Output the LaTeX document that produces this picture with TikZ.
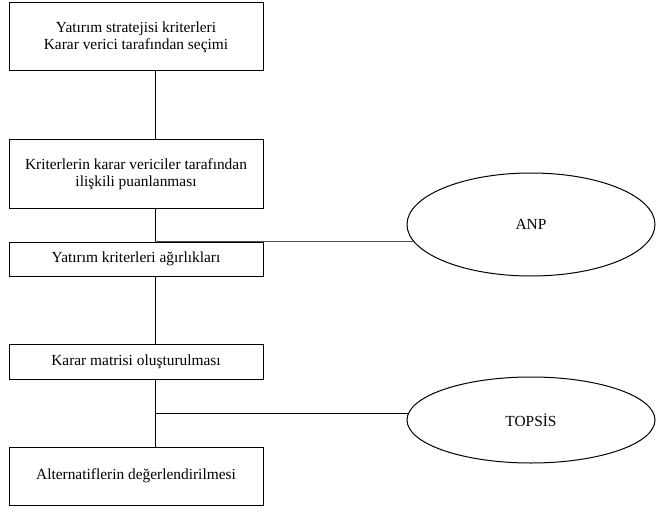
\documentclass[tikz,border=0pt]{standalone}
\usepackage{fontspec}
\setmainfont{Liberation Serif}
\usetikzlibrary{calc,shapes.geometric}

\begin{document}
\begin{tikzpicture}[x=1pt,y=-1pt]
    \tikzset{%
        every node/.style={font=\fontsize{15.4}{17.2}\selectfont},
        stepbox/.style={draw,line width=1pt,minimum width=254pt,inner sep=0pt,
                align=center},%
        method/.style={draw,ellipse,line width=1pt,minimum width=248pt,inner sep=0pt},%
        link/.style={line width=1pt}%
    }
    %% some definitions

    \def\W{656} % picture width
    \def\H{516} % picture height
    \def\xBox{136} % centre of the boxes
    \def\xEll{531} % centre of the ellipses

    \useasboundingbox (0,0) rectangle (\W,\H);

    %% steps

    \node[stepbox,minimum height=68pt] (strateji) at (\xBox,37)
        {Yatırım stratejisi kriterleri\\Karar verici tarafından seçimi};
    \node[stepbox,minimum height=68pt] (puan) at (\xBox,174)
        {Kriterlerin karar vericiler tarafından\\ilişkili puanlanması};
    \node[stepbox,minimum height=34pt] (agirlik) at (\xBox,259)
        {Yatırım kriterleri ağırlıkları};
    \node[stepbox,minimum height=35pt] (matris) at (\xBox,361.5)
        {Karar matrisi oluşturulması};
    \node[stepbox,minimum height=58pt] (alternatif) at (\xBox,476)
        {Alternatiflerin değerlendirilmesi};

    %% methods

    \node[method,minimum height=103pt] (anp) at (\xEll,224.5) {ANP};
    \node[method,minimum height=86pt] (topsis) at (\xEll,420) {TOPSİS};

    %% connectors

    \coordinate (spine) at (155,0);
    \coordinate (jTopsis) at ($(matris.south -| spine)!.5!(alternatif.north -| spine)$);

    \draw[link] (strateji.south -| spine) -- (puan.north -| spine);
    \draw[link] (puan.south -| spine) -- (agirlik.north -| spine);
    \draw[link] (agirlik.south -| spine) -- (matris.north -| spine);
    \draw[link] (matris.south -| spine) -- (alternatif.north -| spine);
    \draw[link,black!70] (agirlik.north -| spine) -- (agirlik.north -| anp.188.5);
    \draw[link] (jTopsis) -- (jTopsis -| topsis.176.7);
\end{tikzpicture}
\end{document}
